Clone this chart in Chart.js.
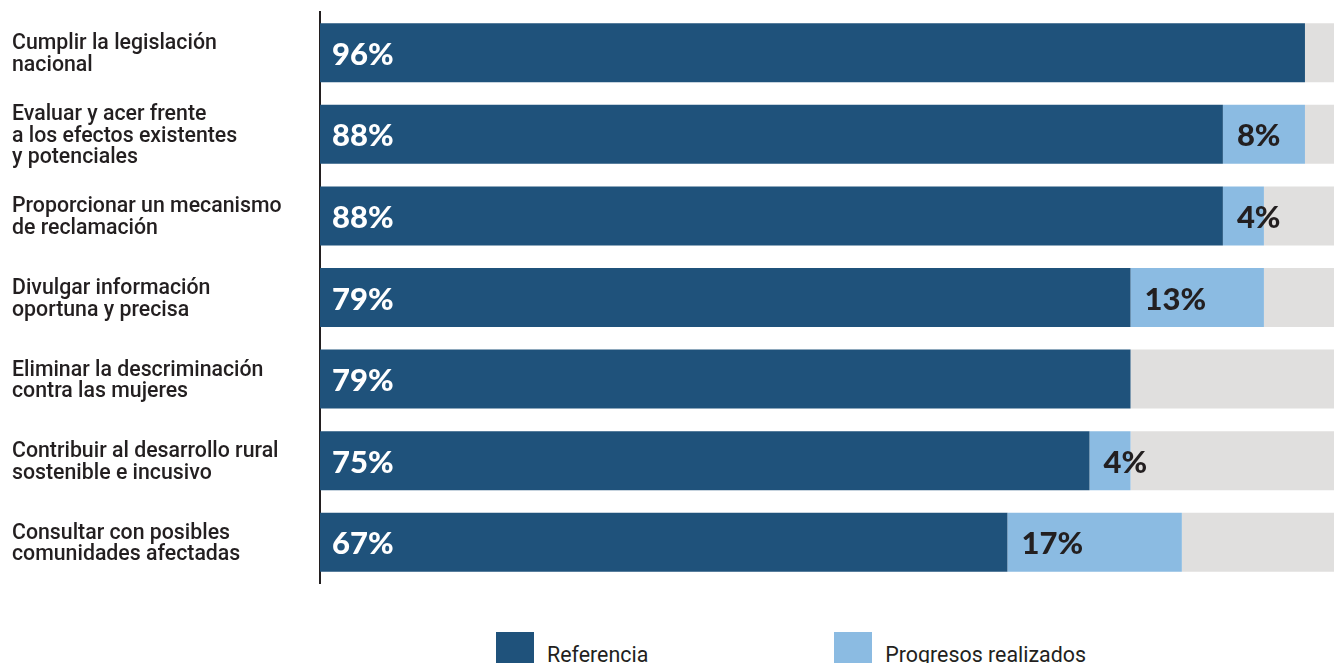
<!DOCTYPE html>
<html lang="es">
<head>
<meta charset="utf-8">
<title>Progresos realizados</title>
<script src="https://cdn.jsdelivr.net/npm/chart.js@4.4.1/dist/chart.umd.min.js"></script>
<style>
    html, body {
        margin: 0;
        padding: 0;
        background: #ffffff;
        overflow: hidden;
    }
    #wrap {
        position: relative;
        width: 1347px;
        height: 663px;
    }
    #chart-box {
        position: absolute;
        left: 0;
        top: 0;
        width: 1347px;
        height: 600px;
    }
    #legend {
        position: absolute;
        left: 496px;
        top: 632px;
        display: flex;
        gap: 186px;
        font-family: Roboto, "Noto Sans", sans-serif;
        font-size: 21.4px;
        color: #231f20;
    }
    .lg-item {
        display: flex;
        align-items: flex-start;
    }
    .lg-box {
        width: 38px;
        height: 38px;
        margin-right: 13px;
    }
    .lg-text {
        line-height: 1;
        margin-top: 12px;
        white-space: nowrap;
    }
</style>
</head>
<body>
<div id="wrap">
    <div id="chart-box"><canvas id="chart"></canvas></div>
    <div id="legend"></div>
</div>
<script>
    const categories = [
        ['Cumplir la legislación', 'nacional'],
        ['Evaluar y acer frente', 'a los efectos existentes', 'y potenciales'],
        ['Proporcionar un mecanismo', 'de reclamación'],
        ['Divulgar información', 'oportuna y precisa'],
        ['Eliminar la descriminación', 'contra las mujeres'],
        ['Contribuir al desarrollo rural', 'sostenible e incusivo'],
        ['Consultar con posibles', 'comunidades afectadas']
    ];
    const referencia = [96, 88, 88, 79, 79, 75, 67];
    const progresos = [0, 8, 4, 13, 0, 4, 17];

    const DARK = '#1f527b';
    const LIGHT = '#8bbbe2';
    const TRACK = '#e0dfde';
    const INK = '#231f20';

    // remainder up to 100% is drawn as a grey track
    const resto = referencia.map(function (v, i) { return 100 - v - progresos[i]; });

    // percentage labels at the start of each coloured segment
    const segmentLabels = {
        id: 'segmentLabels',
        afterDatasetsDraw: function (chart) {
            const ctx = chart.ctx;
            ctx.save();
            ctx.font = '900 31px Lato, "Open Sans", sans-serif';
            ctx.textAlign = 'left';
            ctx.textBaseline = 'alphabetic';
            [0, 1].forEach(function (di) {
                const meta = chart.getDatasetMeta(di);
                const values = chart.data.datasets[di].data;
                ctx.fillStyle = di === 0 ? '#ffffff' : INK;
                const inset = di === 0 ? 12 : 14;
                meta.data.forEach(function (bar, i) {
                    if (!values[i]) return;
                    ctx.fillText(values[i] + '%', bar.base + inset, bar.y + 12);
                });
            });
            ctx.restore();
        }
    };

    const chart = new Chart(document.getElementById('chart'), {
        type: 'bar',
        data: {
            labels: categories,
            datasets: [
                { label: 'Referencia', data: referencia, backgroundColor: DARK },
                { label: 'Progresos realizados', data: progresos, backgroundColor: LIGHT },
                { label: 'resto', data: resto, backgroundColor: TRACK }
            ]
        },
        options: {
            indexAxis: 'y',
            responsive: true,
            maintainAspectRatio: false,
            animation: false,
            devicePixelRatio: 1,
            datasets: {
                bar: { categoryPercentage: 1, barPercentage: 0.723, borderWidth: 0 }
            },
            layout: { padding: { left: 12, top: 12, right: 1, bottom: 17 } },
            plugins: {
                legend: { display: false },
                tooltip: { enabled: false }
            },
            scales: {
                x: {
                    stacked: true,
                    min: 0,
                    max: 100,
                    display: false
                },
                y: {
                    stacked: true,
                    grid: { display: false, drawTicks: false },
                    border: { display: true, color: INK, width: 2 },
                    ticks: {
                        color: INK,
                        crossAlign: 'far',
                        padding: 0,
                        labelOffset: 2,
                        font: { family: 'Roboto, "Noto Sans", sans-serif', size: 21.3, weight: '500', lineHeight: 1.02 }
                    },
                    afterFit: function (scale) {
                        // fixed label column; the outer labels sit inside their bands
                        scale.width = 308;
                        scale.paddingTop = 0;
                        scale.paddingBottom = 0;
                    }
                }
            }
        },
        plugins: [segmentLabels]
    });

    // legend built from the two visible series
    const legendEl = document.getElementById('legend');
    chart.data.datasets.slice(0, 2).forEach(function (ds) {
        const item = document.createElement('div');
        item.className = 'lg-item';
        const box = document.createElement('div');
        box.className = 'lg-box';
        box.style.background = ds.backgroundColor;
        const txt = document.createElement('span');
        txt.className = 'lg-text';
        txt.textContent = ds.label;
        item.appendChild(box);
        item.appendChild(txt);
        legendEl.appendChild(item);
    });
</script>
</body>
</html>
